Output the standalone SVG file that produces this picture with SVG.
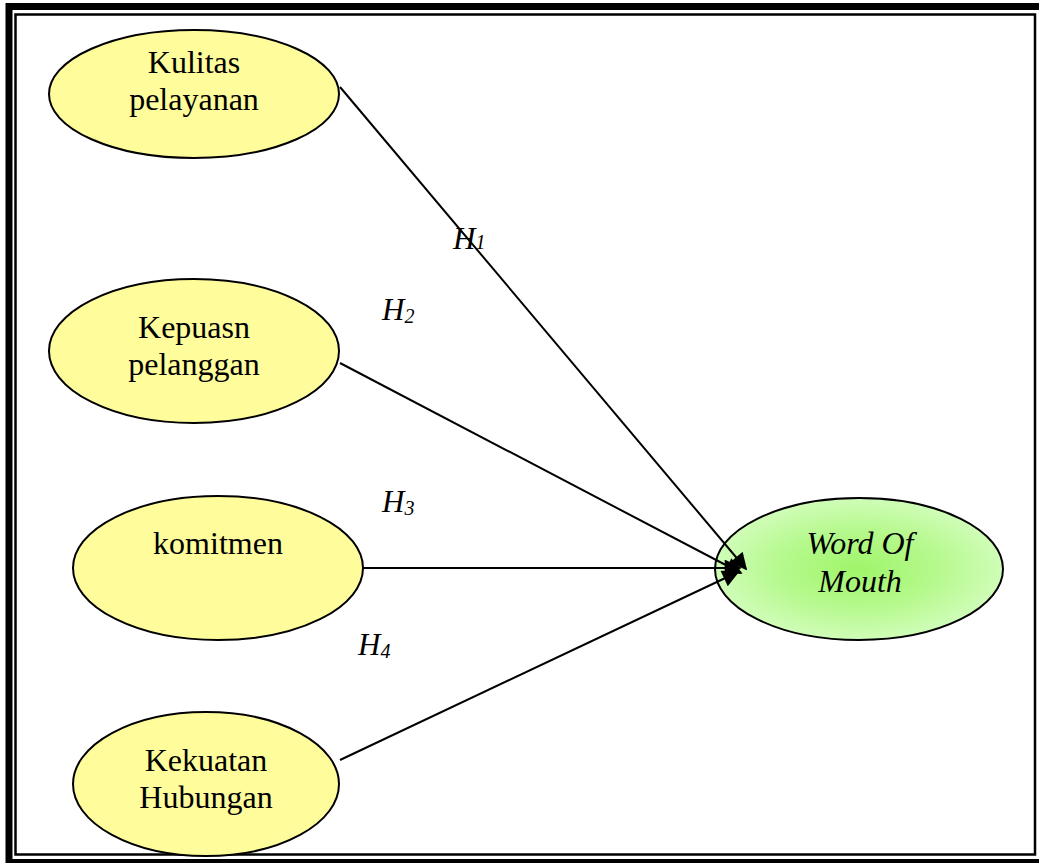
<svg xmlns="http://www.w3.org/2000/svg" width="1039" height="863" viewBox="0 0 1039 863">
<defs>
<radialGradient id="green" cx="50%" cy="50%" r="50%">
<stop offset="0" stop-color="#9ff56a"/>
<stop offset="0.55" stop-color="#b6f98e"/>
<stop offset="1" stop-color="#d0fdb8"/>
</radialGradient>
<marker id="arr" viewBox="0 0 10 10" refX="9" refY="5" markerWidth="24" markerHeight="17" markerUnits="userSpaceOnUse" orient="auto">
<path d="M0,0 L10,5 L0,10 Z" fill="#000"/>
</marker>
<style>
.node{fill:#fffc9c;stroke:#000;stroke-width:2}
.lbl{font-family:"Liberation Serif","Times New Roman",serif;font-size:32px;fill:#000;text-anchor:middle}
.h{font-family:"Liberation Serif","Times New Roman",serif;font-size:31px;font-style:italic;fill:#000}
.sub{font-size:20px}
.edge{stroke:#000;stroke-width:2;fill:none;marker-end:url(#arr)}
</style>
</defs>
<rect x="0" y="0" width="1039" height="863" fill="#fff"/>
<g id="frame" fill="none" stroke="#000">
<rect x="9" y="6.5" width="1036" height="856" stroke-width="7"/>
<rect x="15.5" y="14.5" width="1019.5" height="840" stroke-width="2.5"/>
</g>
<g id="n1">
<ellipse class="node" cx="194" cy="94" rx="145" ry="64"/>
<text class="lbl" x="194" y="73">Kulitas</text>
<text class="lbl" x="194" y="110">pelayanan</text>
</g>
<g id="n2">
<ellipse class="node" cx="194" cy="351" rx="145" ry="72"/>
<text class="lbl" x="194" y="338">Kepuasn</text>
<text class="lbl" x="194" y="375">pelanggan</text>
</g>
<g id="n3">
<ellipse class="node" cx="218" cy="568" rx="145" ry="72"/>
<text class="lbl" x="218" y="554">komitmen</text>
</g>
<g id="n4">
<ellipse class="node" cx="206" cy="784" rx="133" ry="72"/>
<text class="lbl" x="206" y="771">Kekuatan</text>
<text class="lbl" x="206" y="808">Hubungan</text>
</g>
<g id="n5">
<ellipse cx="859" cy="569" rx="144" ry="71" fill="url(#green)" stroke="#000" stroke-width="2"/>
<text class="lbl" x="860" y="554" font-style="italic">Word Of</text>
<text class="lbl" x="860" y="592" font-style="italic">Mouth</text>
</g>
<g id="connectors">
<line class="edge" x1="340" y1="87" x2="746" y2="569"/>
<line class="edge" x1="340" y1="363" x2="741" y2="573"/>
<line class="edge" x1="363" y1="568" x2="740" y2="568"/>
<line class="edge" x1="340" y1="760" x2="738" y2="572"/>
</g>
<g id="labels">
<text class="h" x="453" y="249">H<tspan class="sub">1</tspan></text>
<text class="h" x="382" y="320">H<tspan class="sub" dy="3">2</tspan></text>
<text class="h" x="382" y="512">H<tspan class="sub" dy="3">3</tspan></text>
<text class="h" x="358" y="655">H<tspan class="sub" dy="3">4</tspan></text>
</g>
</svg>
